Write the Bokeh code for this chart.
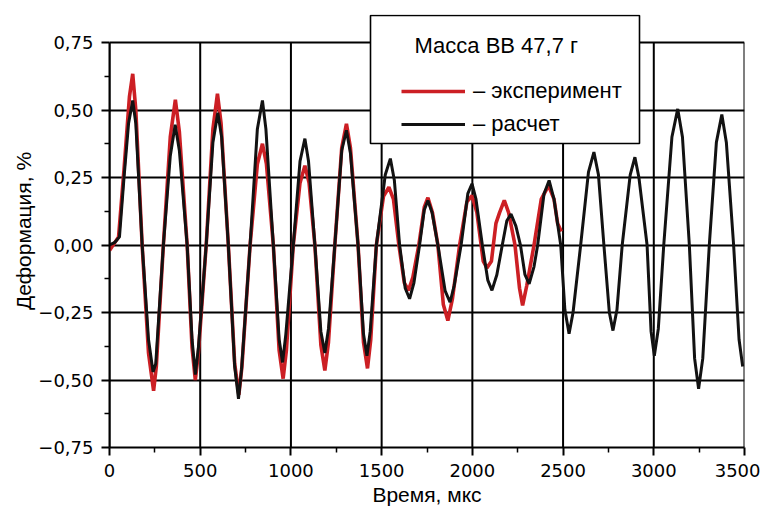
from bokeh.plotting import figure
from bokeh.models import (Range1d, FixedTicker, CustomJSTickFormatter, Legend,
                          LegendItem, Label, BoxAnnotation)
from bokeh.embed import file_html
from bokeh.resources import INLINE

# ---- data ----
x_ticks = [0, 500, 1000, 1500, 2000, 2500, 3000, 3500]
x_minor = [250, 750, 1250, 1750, 2250, 2750, 3250]
y_ticks = [-0.75, -0.5, -0.25, 0.0, 0.25, 0.5, 0.75]
y_minor = [-0.625, -0.375, -0.125, 0.125, 0.375, 0.625]

calc_t = [0, 30, 55, 80, 105, 128, 145, 180, 215, 240, 255, 297, 335, 362, 385,
          428, 455, 473, 490, 533, 570, 597, 618, 655, 690, 711, 728, 775, 815,
          843, 862, 903, 935, 954, 972, 1013, 1050, 1077, 1097, 1132, 1165, 1187,
          1207, 1242, 1280, 1306, 1328, 1370, 1400, 1419, 1437, 1471, 1520, 1548,
          1570, 1599, 1630, 1654, 1678, 1709, 1735, 1755, 1778, 1810, 1850, 1877,
          1900, 1938, 1975, 1998, 2020, 2055, 2085, 2108, 2135, 2165, 2190, 2213,
          2240, 2265, 2290, 2313, 2340, 2360, 2395, 2423, 2450, 2487, 2510, 2533,
          2555, 2597, 2640, 2670, 2695, 2725, 2755, 2775, 2797, 2826, 2870, 2896,
          2918, 2963, 2985, 3003, 3025, 3055, 3100, 3132, 3158, 3196, 3225, 3247,
          3270, 3306, 3345, 3375, 3400, 3440, 3470, 3490]
calc_v = [0.0, 0.01, 0.03, 0.25, 0.45, 0.535, 0.45, 0.0, -0.35, -0.47, -0.44, 0.0,
          0.33, 0.445, 0.35, 0.0, -0.35, -0.48, -0.38, 0.0, 0.38, 0.49, 0.40, 0.0,
          -0.45, -0.57, -0.46, 0.0, 0.43, 0.535, 0.43, 0.0, -0.35, -0.435, -0.33,
          0.0, 0.31, 0.394, 0.31, 0.0, -0.32, -0.40, -0.31, 0.0, 0.35, 0.425, 0.34,
          0.0, -0.33, -0.41, -0.32, 0.0, 0.26, 0.32, 0.24, 0.0, -0.16, -0.199,
          -0.14, 0.0, 0.13, 0.165, 0.12, 0.0, -0.17, -0.212, -0.15, 0.0, 0.19,
          0.227, 0.17, 0.0, -0.13, -0.168, -0.11, 0.0, 0.09, 0.115, 0.07, 0.0,
          -0.11, -0.144, -0.08, 0.0, 0.19, 0.239, 0.17, 0.0, -0.24, -0.329, -0.25,
          0.0, 0.27, 0.344, 0.26, 0.0, -0.25, -0.317, -0.24, 0.0, 0.26, 0.325,
          0.25, 0.0, -0.32, -0.41, -0.31, 0.0, 0.40, 0.504, 0.40, 0.0, -0.42,
          -0.533, -0.42, 0.0, 0.38, 0.483, 0.38, 0.0, -0.35, -0.45]

exp_t = [0, 20, 50, 80, 110, 128, 145, 180, 215, 243, 258, 297, 335, 363, 385,
         428, 455, 473, 490, 533, 570, 595, 615, 655, 690, 713, 730, 775, 815,
         843, 865, 903, 935, 957, 975, 1013, 1050, 1077, 1100, 1132, 1165, 1187,
         1207, 1242, 1280, 1306, 1328, 1370, 1400, 1422, 1440, 1471, 1510, 1540,
         1565, 1595, 1625, 1648, 1672, 1705, 1735, 1755, 1780, 1810, 1840, 1865,
         1890, 1930, 1970, 1998, 2025, 2060, 2080, 2105, 2130, 2150, 2176, 2200,
         2235, 2260, 2277, 2300, 2340, 2380, 2420, 2450, 2470, 2490]
exp_v = [-0.02, 0.0, 0.03, 0.28, 0.55, 0.634, 0.50, 0.0, -0.40, -0.54, -0.45,
         0.0, 0.40, 0.538, 0.42, 0.0, -0.38, -0.50, -0.40, 0.0, 0.43, 0.56, 0.45,
         0.0, -0.44, -0.555, -0.45, 0.0, 0.30, 0.375, 0.30, 0.0, -0.39, -0.495,
         -0.39, 0.0, 0.23, 0.294, 0.23, 0.0, -0.37, -0.465, -0.36, 0.0, 0.36,
         0.449, 0.36, 0.0, -0.36, -0.457, -0.35, 0.0, 0.18, 0.214, 0.17, 0.0,
         -0.14, -0.168, -0.12, 0.0, 0.14, 0.175, 0.12, 0.0, -0.22, -0.28, -0.20,
         0.0, 0.16, 0.183, 0.12, -0.06, -0.085, -0.06, 0.08, 0.12, 0.165, 0.12,
         0.0, -0.16, -0.224, -0.15, 0.0, 0.17, 0.22, 0.17, 0.08, 0.05]

legend_title = "Масса ВВ 47,7 г"
label_exp = "– эксперимент"
label_calc = "– расчет"
x_label = "Время, мкс"
y_label = "Деформация, %"

Y_MIN, Y_MAX = -0.75, 0.75
X_MIN, X_MAX = 0, 3500
# extra headroom above the plotted box so that the legend frame can rise above it
Y_TOP = Y_MAX + 28 / 270

# ---- figure ----
p = figure(frame_width=635, frame_height=433,
           x_range=Range1d(X_MIN, X_MAX), y_range=Range1d(Y_MIN, Y_TOP),
           output_backend="svg", toolbar_location=None,
           min_border_left=109, min_border_top=14, min_border_right=16,
           min_border_bottom=58,
           background_fill_color="white", border_fill_color="white")

p.xaxis.ticker = FixedTicker(ticks=x_ticks, minor_ticks=x_minor)
p.yaxis.ticker = FixedTicker(ticks=y_ticks, minor_ticks=y_minor)
p.ygrid.ticker = FixedTicker(ticks=y_ticks)
p.yaxis.bounds = (Y_MIN, Y_MAX)
p.yaxis.formatter = CustomJSTickFormatter(
    code="return tick.toFixed(2).replace('.', ',').replace('-', '\u2212');")

p.xgrid.visible = False
p.ygrid.grid_line_color = "black"
p.ygrid.grid_line_width = 2
p.ygrid.grid_line_alpha = 1.0

# vertical grid lines (including the right border), limited to the value box
p.segment(x0=x_ticks, y0=[Y_MIN] * len(x_ticks), x1=x_ticks,
          y1=[Y_MAX] * len(x_ticks), line_color="black", line_width=2,
          level="underlay")

for ax in (p.xaxis, p.yaxis):
    ax.axis_line_color = "black"
    ax.axis_line_width = 2
    ax.major_tick_line_color = "black"
    ax.major_tick_line_width = 2
    ax.minor_tick_line_color = "black"
    ax.minor_tick_line_width = 1.5
    ax.major_tick_out = 8
    ax.major_tick_in = 0
    ax.minor_tick_out = 5
    ax.minor_tick_in = 0
    ax.major_label_text_font = "DejaVu Sans"
    ax.major_label_text_font_size = "18px"
    ax.major_label_text_color = "black"
    ax.major_label_standoff = 8
    ax.axis_label_text_font = "Liberation Sans"
    ax.axis_label_text_font_size = "21px"
    ax.axis_label_text_font_style = "normal"
    ax.axis_label_text_color = "black"
    ax.axis_label_standoff = 3

p.yaxis.axis_label_standoff = 0
p.xaxis.axis_label = x_label
p.yaxis.axis_label = y_label

p.outline_line_color = None

r_exp = p.line(exp_t, exp_v, line_color="#cc1f24", line_width=3.6)
r_calc = p.line(calc_t, calc_v, line_color="#121212", line_width=3.0)

# legend frame
box = BoxAnnotation(left=261, right=530, top=432, bottom=304,
                    left_units="screen", right_units="screen",
                    top_units="screen", bottom_units="screen",
                    fill_color="white", fill_alpha=1.0,
                    line_color="black", line_width=1.6, line_alpha=1.0)
p.add_layout(box)

title = Label(x=305, y=402, x_units="screen", y_units="screen",
              text=legend_title, text_font="Liberation Sans",
              text_font_size="22px", text_baseline="alphabetic",
              text_align="left", text_color="black")
p.add_layout(title)

legend = Legend(items=[LegendItem(label=label_exp, renderers=[r_exp]),
                       LegendItem(label=label_calc, renderers=[r_calc])],
                location=(292, 310), padding=0, margin=0, spacing=7,
                glyph_width=64, glyph_height=20, label_height=20,
                label_standoff=8, border_line_color=None,
                background_fill_alpha=0.0,
                label_text_font="Liberation Sans", label_text_font_size="22px",
                label_text_color="black")
p.add_layout(legend)

open("out.html", "w").write(file_html(p, INLINE))
